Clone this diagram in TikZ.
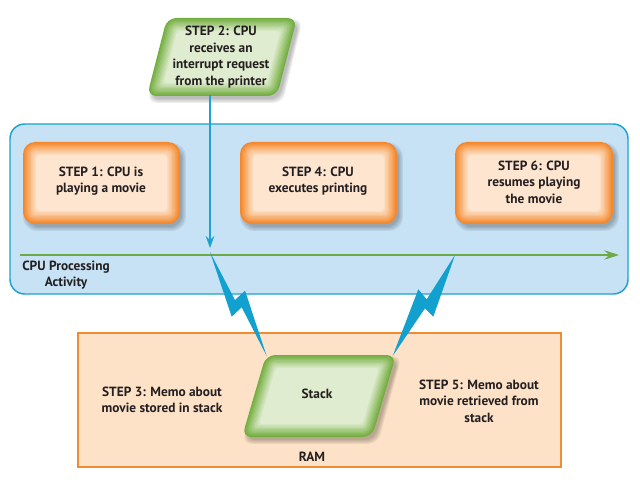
\documentclass[tikz,border=0pt]{standalone}
\usepackage{fontspec}
\setmainfont{PT Sans}
\usetikzlibrary{arrows.meta}
\definecolor{txt}{HTML}{231F20}
\definecolor{ocol}{HTML}{F5872A}
\definecolor{opeach}{HTML}{FDE5CF}
\definecolor{gcol}{HTML}{74AE40}
\definecolor{glight}{HTML}{DFECCF}
\definecolor{bfill}{HTML}{C7E1F5}
\definecolor{bline}{HTML}{1CA3D3}
\definecolor{rfill}{HTML}{FDE2C8}
\definecolor{rline}{HTML}{F08C34}
\definecolor{bolt}{HTML}{12A0CF}
\definecolor{tline}{HTML}{6DAA45}
\newcommand\obox[4]{%
  \foreach \k in {1,2,3,4}{%
    \pgfmathsetmacro\e{\k*1.2}%
    \fill[black,opacity=0.07,rounded corners=10pt] ({#1+2-\e+3},{#2+2-\e+4}) rectangle ({#3-2+\e+3},{#4-2+\e+4});
  }%
  \foreach \i in {0,...,10}{%
    \pgfmathsetmacro\d{\i*1.3}%
    \pgfmathsetmacro\p{100-\i*10}%
    \pgfmathsetmacro\r{max(9-0.7*\d,3)}%
    \fill[ocol!\p!opeach, rounded corners=\r pt] ({#1+\d},{#2+\d}) rectangle ({#3-\d},{#4-\d});
  }%
}
\newcommand\gpar[5]{%
  \foreach \k in {1,2,3,4}{%
    \pgfmathsetmacro\e{\k*1.2-2}%
    \fill[black,opacity=0.07,rounded corners=7pt]
      ({#1+3-#3-\e+#5},{#2+4-#4-\e}) -- ({#1+3+#3+\e+#5},{#2+4-#4-\e}) --
      ({#1+3+#3+\e-#5},{#2+4+#4+\e}) -- ({#1+3-#3-\e-#5},{#2+4+#4+\e}) -- cycle;
  }%
  \foreach \i in {0,...,10}{%
    \pgfmathsetmacro\d{\i*1.3}%
    \pgfmathsetmacro\hh{#4-\d}%
    \pgfmathsetmacro\ss{#5*\hh/#4}%
    \pgfmathsetmacro\ww{#3-\d*1.03}%
    \pgfmathsetmacro\p{100-\i*10}%
    \pgfmathsetmacro\r{max(7-0.5*\d,2)}%
    \fill[gcol!\p!glight, rounded corners=\r pt]
      ({#1-\ww+\ss},{#2-\hh}) -- ({#1+\ww+\ss},{#2-\hh}) --
      ({#1+\ww-\ss},{#2+\hh}) -- ({#1-\ww-\ss},{#2+\hh}) -- cycle;
  }%
}
\begin{document}
\begin{tikzpicture}[x=0.75pt,y=-0.75pt,
  lbl/.style={text=txt,font=\fontsize{10}{12.3}\selectfont\bfseries,align=center,inner sep=0pt},
  boltstyle/.style={fill=bolt,draw=none}]
\useasboundingbox (0,0) rectangle (640,485);
\fill[white] (0,0) rectangle (640,485);
% CPU processing area
\draw[bline,fill=bfill,line width=1.1pt,rounded corners=11pt] (10,124) rectangle (628,294);
% Orange step boxes
\obox{23}{142}{180}{224}
\obox{240}{142}{397}{224}
\obox{455}{142}{613}{224}
\node[lbl] (s1) at (101,181) {STEP 1: CPU is\\playing a movie};
\node[lbl] (s4) at (318,181) {STEP 4: CPU\\executes printing};
\node[lbl] (s6) at (534,182) {STEP 6: CPU\\resumes playing\\the movie};
% timeline
\coordinate (tlA) at (20,255);
\coordinate (tlB) at (619,255);
\draw[tline,line width=1pt,-{Stealth[length=11pt,width=7pt]}] (tlA) -- (tlB);
\node[lbl] (cpa) at (66,275) {CPU Processing\\Activity};
% Step 2 parallelogram
\gpar{222}{57}{65}{39}{10}
\node[lbl] (s2) at (221,57) {STEP 2: CPU\\receives an\\interrupt request\\from the printer};
\coordinate (s2b) at (210,95);
\coordinate (hit) at (210,248);
\draw[bline,line width=1.1pt,-{Stealth[length=9pt,width=6.5pt,inset=3pt]}] (s2b) -- (hit);
% RAM area
\draw[rline,fill=rfill,line width=1.1pt] (78,333) rectangle (561,467);
% Lightning bolts
\fill[boltstyle] (210,252) -- (235,300) -- (245,290.7) -- (266.7,356) -- (241.7,307.3) -- (231.7,316.7) -- cycle;
\fill[boltstyle] (455,255) -- (433.3,316.7) -- (425,308.3) -- (392.7,356) -- (418.3,289.3) -- (426.7,299.3) -- cycle;
% Stack parallelogram
\gpar{319}{396}{65}{41}{12}
\node[lbl] (stack) at (317,394) {Stack};
\node[lbl] (s3) at (162,400) {STEP 3: Memo about\\movie stored in stack};
\node[lbl] (s5) at (479,401) {STEP 5: Memo about\\movie retrieved from\\stack};
\node[lbl] (ram) at (312,457) {RAM};
\end{tikzpicture}
\end{document}
